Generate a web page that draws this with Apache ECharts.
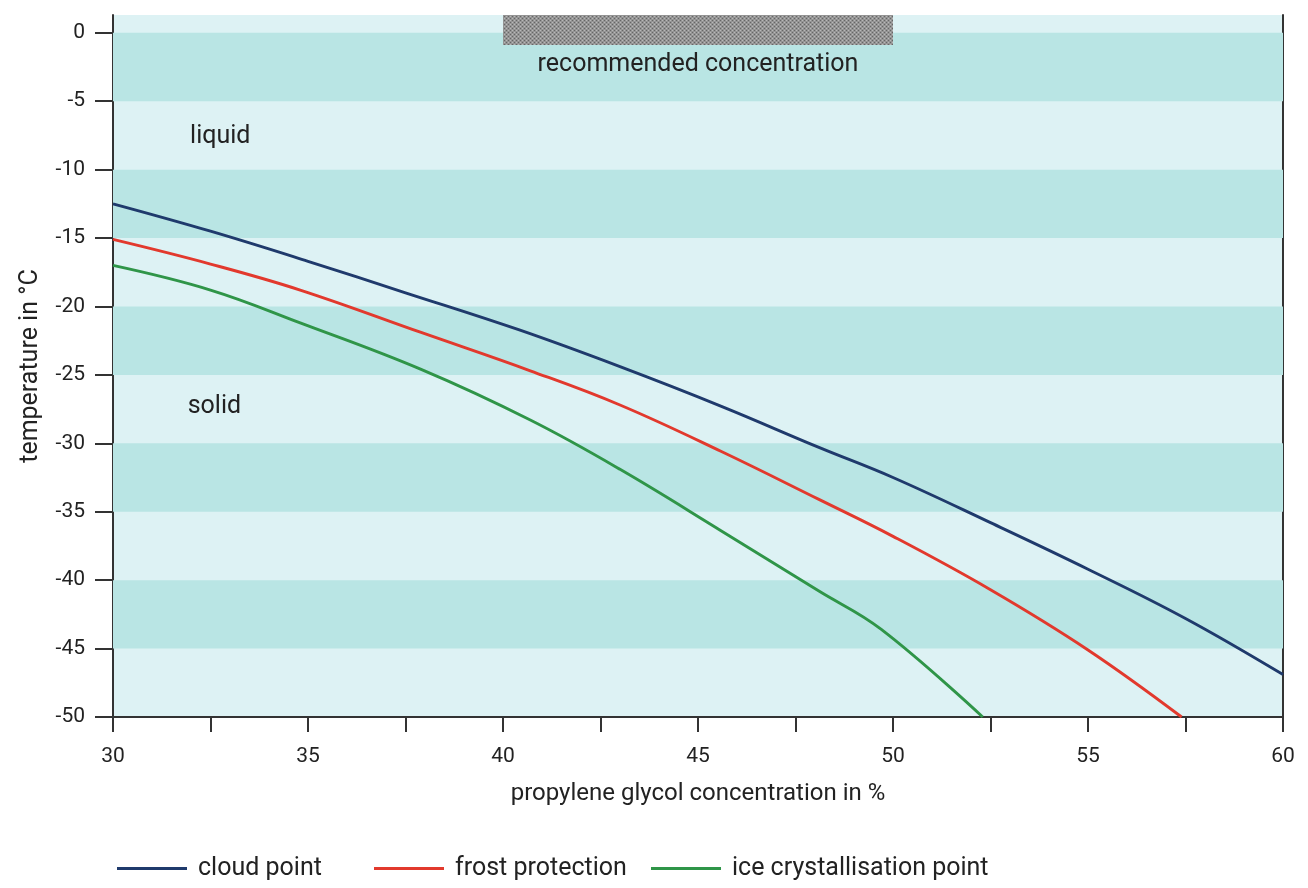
<!DOCTYPE html>
<html>
<head>
<meta charset="utf-8">
<title>Propylene glycol – freezing behaviour</title>
<script src="https://cdn.jsdelivr.net/npm/echarts@6/dist/echarts.min.js"></script>
<style>
  html, body { margin: 0; padding: 0; background: #ffffff; }
  #chart { width: 1308px; height: 888px; }
</style>
</head>
<body>
<div id="chart"></div>
<script>
// Concentration (%) vs. temperature (°C)
const cloudPoint = [
  [30, -12.5], [32.5, -14.5], [35, -16.7], [37.5, -19.0], [40.4, -21.7],
  [43, -24.4], [45.6, -27.3], [48.1, -30.3], [50, -32.5], [52.5, -35.8],
  [55, -39.2], [57.5, -42.8], [60, -46.9]
];
const frostProtection = [
  [30, -15.1], [32.5, -16.9], [34.8, -18.8], [37.9, -21.9], [40.7, -24.7],
  [43, -27.2], [45.6, -30.6], [48.1, -34.1], [50, -36.8], [52.5, -40.7],
  [55, -45.1], [57.4, -50]
];
const iceCrystallisation = [
  [30, -17.0], [32.5, -18.8], [34.8, -21.2], [37.9, -24.6], [40.7, -28.3],
  [43, -31.9], [45.6, -36.4], [48.1, -40.8], [49.7, -43.6], [52.3, -50]
];
const seriesNames = ['cloud point', 'frost protection', 'ice crystallisation point'];
const seriesColors = ['#1f3a6c', '#e2392d', '#2f9548'];

const xTickLabels = [30, 35, 40, 45, 50, 55, 60];
const yTickLabels = [0, -5, -10, -15, -20, -25, -30, -35, -40, -45, -50];

// shaded temperature bands (every other 5 °C step)
const darkBands = [[0, -5], [-10, -15], [-20, -25], [-30, -35], [-40, -45]];

// recommended concentration range (%), drawn as a bar along the top
const recommendedRange = [40, 50];
const recommendedBarTemp = [-0.9, 1.3];

// region captions: [text, concentration, temperature]
const regionLabels = [
  ['liquid', 32.75, -7.6],
  ['solid', 32.6, -27.3],
  ['recommended concentration', 45, -2.3]
];

const FONT = 'Roboto, "Open Sans", sans-serif';
const TEXT = '#222222';

// fine dotted grey fill for the recommended bar
const pat = document.createElement('canvas');
pat.width = 4; pat.height = 4;
const pc = pat.getContext('2d');
pc.fillStyle = '#949494';
pc.fillRect(0, 0, 4, 4);
pc.fillStyle = '#666666';
pc.fillRect(0, 0, 1, 1); pc.fillRect(2, 2, 1, 1);
pc.fillStyle = '#b8b8b8';
pc.fillRect(2, 0, 1, 1); pc.fillRect(0, 2, 1, 1);

const chart = echarts.init(document.getElementById('chart'), null, { renderer: 'canvas' });

const lineSeries = [cloudPoint, frostProtection, iceCrystallisation].map((d, i) => ({
  name: seriesNames[i],
  type: 'line',
  data: d,
  smooth: 0.4,
  showSymbol: false,
  symbol: 'none',
  z: 5,
  lineStyle: { color: seriesColors[i], width: 2.9 },
  itemStyle: { color: seriesColors[i] }
}));

// one legend block per series, placed along the bottom
const legendLeft = [112, 369, 646];
const legends = seriesNames.map((n, i) => ({
  data: [{ name: n, icon: 'rect' }],
  left: legendLeft[i], top: 851,
  itemWidth: 70, itemHeight: 3,
  selectedMode: false,
  textStyle: { fontFamily: FONT, fontSize: 25, color: TEXT, padding: [0, 0, 0, 6] }
}));

chart.setOption({
  animation: false,
  backgroundColor: '#ffffff',
  grid: {
    left: 113, right: 25, top: 15, bottom: 171,
    show: true, backgroundColor: '#ddf2f4', borderWidth: 0
  },
  legend: legends,
  xAxis: {
    type: 'value', min: 30, max: 60, interval: 2.5,
    name: 'propylene glycol concentration in %',
    nameLocation: 'middle', nameGap: 65,
    nameTextStyle: { fontFamily: FONT, fontSize: 24, color: TEXT },
    axisLine: { show: true, onZero: false, lineStyle: { color: '#333', width: 2 } },
    axisTick: { show: true, length: 15, lineStyle: { color: '#333', width: 2 } },
    axisLabel: {
      customValues: xTickLabels,
      fontFamily: FONT, fontSize: 21, color: TEXT, margin: 29
    },
    splitLine: { show: false }
  },
  yAxis: [{
    type: 'value', min: -50, max: 1.3,
    name: 'temperature in °C',
    nameLocation: 'middle', nameGap: 70, nameRotate: 90,
    nameTextStyle: { fontFamily: FONT, fontSize: 25, color: TEXT },
    axisLine: { show: true, onZero: false, lineStyle: { color: '#333', width: 2 } },
    axisTick: { show: true, length: 18, customValues: yTickLabels, lineStyle: { color: '#333', width: 2 } },
    axisLabel: {
      customValues: yTickLabels,
      fontFamily: FONT, fontSize: 21, color: TEXT, margin: 28
    },
    splitLine: { show: false }
  }, {
    type: 'value', min: -50, max: 1.3, position: 'right',
    axisLine: { show: true, onZero: false, lineStyle: { color: '#333', width: 2 } },
    axisTick: { show: false }, axisLabel: { show: false }, splitLine: { show: false }
  }],
  series: [
    {
      name: 'bands', type: 'line', data: [], silent: true, z: 1,
      markArea: {
        silent: true,
        itemStyle: { color: '#b9e5e4' },
        data: darkBands.map(b => [{ yAxis: b[0] }, { yAxis: b[1] }])
      }
    },
    {
      name: 'recommended', type: 'line', data: [], silent: true, z: 3,
      markArea: {
        silent: true,
        itemStyle: { color: { image: pat, repeat: 'repeat' } },
        data: [[
          { coord: [recommendedRange[0], recommendedBarTemp[1]] },
          { coord: [recommendedRange[1], recommendedBarTemp[0]] }
        ]]
      }
    },
    ...lineSeries,
    {
      name: 'captions', type: 'scatter', silent: true, z: 6,
      symbolSize: 0,
      itemStyle: { opacity: 1 },
      data: regionLabels.map(r => ({ name: r[0], value: [r[1], r[2]] })),
      label: {
        show: true, position: 'inside', formatter: '{b}', opacity: 1,
        fontFamily: FONT, fontSize: 25, color: TEXT,
        textBorderWidth: 0
      }
    }
  ]
});
</script>
</body>
</html>
